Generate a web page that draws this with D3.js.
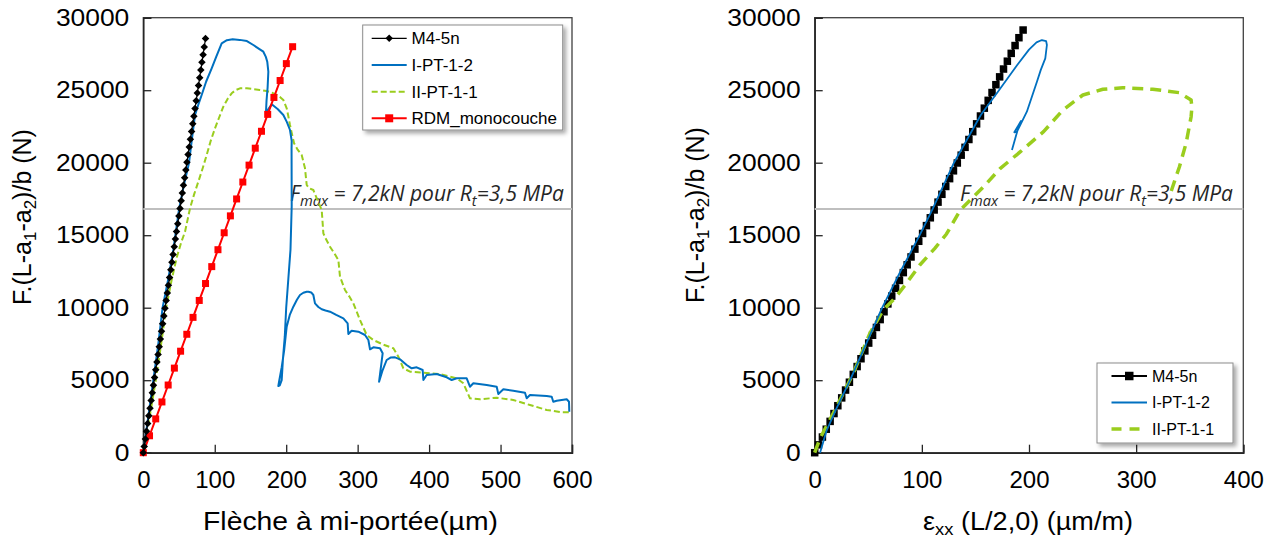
<!DOCTYPE html>
<html><head><meta charset="utf-8">
<script src="https://cdn.jsdelivr.net/npm/d3@7/dist/d3.min.js"></script>
<style>
html,body{margin:0;padding:0;background:#fff;}
svg{display:block;font-family:"Liberation Sans",Arial,sans-serif;}
</style></head>
<body>
<svg id="chart" width="1277" height="539"></svg>
<script>
// ---------------- DATA ----------------
const yTicks = [0, 5000, 10000, 15000, 20000, 25000, 30000];
const xTicksLeft = [0, 100, 200, 300, 400, 500, 600];
const xTicksRight = [0, 100, 200, 300, 400];
const fmaxLevel = 16800;

// Left chart: Flèche à mi-portée (µm) vs F.(L-a1-a2)/b (N)
const m45nLeftX = [0,1.3,2.9,4.5,6.1,7.7,9.4,11.0,12.6,14.2,15.8,17.4,19.1,20.7,22.3,23.9,25.5,27.1,28.8,30.4,32.0,33.6,35.2,36.8,38.5,40.1,41.7,43.3,44.9,46.5,48.2,49.8,51.4,53.0,54.6,56.2,57.9,59.5,61.1,62.7,64.3,65.9,67.6,69.2,70.8,72.4,74.0,75.6,77.3,78.9,80.5,82.1,83.7,85.3,87.1];
const m45nLeftY = [0,420,950,1480,2010,2540,3070,3600,4130,4660,5190,5720,6250,6780,7310,7840,8370,8900,9430,9960,10490,11020,11550,12080,12610,13140,13670,14200,14730,15260,15790,16320,16850,17380,17910,18440,18970,19500,20030,20560,21090,21620,22150,22680,23210,23740,24270,24800,25330,25860,26390,26920,27450,27980,28560];

const ipt12LeftX = [0,7,14,21,27,35,42,50,57,64,68,72.4,77,81.7,88,95.7,102,109.7,117,125,135,145,154,162,168,171.5,173.5,175,174,172.5,171.7,175,179.7,188,196,201,205.3,207.7,207.5,207.7,206,203,200,198,195.5,193.7,191,189,190,193.7,197,200.7,205,210,215,219.3,224,228.7,231,235,238,240.3,245,249.7,255,261.3,270,280,286,287,291.6,301,310.3,315,317.3,322,331.3,335,330,335,340.6,346,352.3,359.3,368.6,375.6,382.6,391,392,396.6,410.6,424.6,431.6,438.6,452.6,457.2,461.9,480.6,494.6,496.9,503.9,517.8,534.2,536.6,541.2,564.6,571.6,573.8,578.6,592.6,595.8,596.2];
const ipt12LeftY = [0,2500,5000,7500,10000,12000,14000,16800,18500,20000,21600,23290,24000,24670,25600,26510,27300,28235,28450,28510,28470,28390,28117,27850,27655,27300,26965,26276,25200,24300,23517,23700,24027,23700,23290,22800,22255,21500,20990,17000,14000,12000,10000,8000,6500,5000,4650,4600,4900,5900,7000,8690,9500,10070,10550,10876,11030,11100,11100,11050,10876,10300,10050,9890,9810,9725,9500,9270,8924,8186,8414,8345,8117,7772,7130,7269,7200,6855,4897,5700,6393,6560,6579,6441,6048,5820,5890,5703,5014,5359,5428,5200,5014,5131,5131,4552,4786,4669,4552,4048,4372,4276,4138,3752,3979,3910,3862,3517,3586,3683,3517,2828];

const iipt11LeftX = [0,9,17.5,25,32,40,47,53,58.4,65.4,71,77,83,88.7,94,100.3,106,112,118,123.7,129,135.3,145,154,163,172.7,180,186.7,192,196,200.7,203,205.3,208,211,216,221.7,226.3,228.7,232,238,244,249.7,252,256,261.3,268,273,275.3,282.3,288,294,303.3,312.7,322,336,350,357,364,373.3,392,415.3,438.6,447.9,457.2,471.2,494.6,517.8,541.2,564.6,585,599.6];
const iipt11LeftY = [0,2500,5000,7500,10000,12000,13500,14500,15240,16855,17800,18690,19600,20530,21450,22370,23100,23860,24400,24785,25000,25130,25130,25080,25020,24945,24830,24670,24500,24325,23750,23200,22600,22000,21340,20900,20530,19614,18462,18250,18117,17400,16738,15130,14700,14207,13700,13290,12138,11220,10800,10303,9152,8117,7772,7450,7200,6621,5821,5586,5517,5428,5131,4786,3752,3683,3793,3634,3290,2945,2800,2786];

const rdmX = [0,8.7,17.4,26.1,34.8,43.5,52.2,60.9,69.6,78.3,87.1,95.8,104.5,113.2,121.9,130.6,139.3,148.0,156.7,165.4,174.1,182.8,191.5,200.2,209.0];
const rdmY = [0,1167,2333,3500,4667,5833,7000,8167,9333,10500,11667,12833,14000,15167,16333,17500,18667,19833,21000,22167,23333,24500,25667,26833,28000];

// Right chart: εxx (L/2,0) (µm/m) vs F.(L-a1-a2)/b (N)
const m45nRightX = [0,3.5,7.2,10.8,14.4,18.0,21.6,25.2,28.8,32.4,36.0,39.6,43.2,46.8,50.4,54.0,57.6,61.1,64.7,68.3,71.9,75.5,79.1,82.7,86.3,89.9,93.5,97.1,100.7,104.3,107.9,111.5,115.1,118.7,122.3,125.9,129.5,133.1,136.7,140.3,143.9,147.5,151.1,154.7,158.3,161.9,165.5,169.1,172.6,176.2,179.8,183.4,187.0,190.6,194.5];
const m45nRightY = [0,540,1080,1620,2160,2700,3240,3780,4320,4860,5400,5940,6480,7020,7560,8100,8640,9180,9720,10260,10800,11340,11880,12420,12960,13500,14040,14580,15120,15660,16200,16740,17280,17820,18360,18900,19440,19980,20520,21060,21600,22140,22680,23220,23760,24300,24840,25380,25920,26460,27000,27540,28080,28620,29150];

const ipt12RightX = [5,11,20,33,48,63,80,98,110,130,155,172,189,200,207,212,216,216.7,215.2,211,207.4,198,188.8,186.3,192.5,189.4,184.1];
const ipt12RightY = [0,1500,3000,5000,7500,10000,12500,15000,16800,20000,23290,25000,26740,27800,28300,28460,28380,28117,27200,26400,25586,23517,22138,22096,22876,22255,20876];

const iipt11RightX = [0,5,17.3,36,51.5,63.9,74.8,85.7,98.1,112.1,123,136,157.7,173.3,192,213.6,231.6,250.3,268.9,287.5,315.5,340.4,351.3,352,351.3,346.6,340.4,334.1,331];
const iipt11RightY = [0,993,2717,5476,8234,9841,10648,11683,12945,14096,15083,16740,18345,19614,20760,22138,23634,24670,25062,25172,25062,24830,24325,23800,23172,21338,19724,18345,17655];

// ---------------- DRAW ----------------
const svg = d3.select('#chart');
const defs = svg.append('defs');
const f = defs.append('filter').attr('id','shadow').attr('x','-10%').attr('y','-10%').attr('width','130%').attr('height','140%');
f.append('feDropShadow').attr('dx',3).attr('dy',3).attr('stdDeviation',2).attr('flood-color','#000').attr('flood-opacity',0.35);

function zip(xs, ys){ return xs.map((x,i)=>[x, ys[i]]); }

// stretch a text element horizontally to a target width, keeping its anchor point
function fitWidth(sel, target){
  const bb = sel.node().getBBox();
  const sx = target / bb.width;
  const x0 = +sel.attr('x') || 0;
  sel.attr('transform', `translate(${x0},0) scale(${sx},1) translate(${-x0},0)`);
}

function panel(opts){
  const x = d3.scaleLinear().domain(opts.xDomain).range(opts.xRange);
  const y = d3.scaleLinear().domain([0,30000]).range([452.7,17.7]);
  const g = svg.append('g');
  g.append('rect').attr('x',opts.xRange[0]).attr('y',17.7)
    .attr('width',opts.xRange[1]-opts.xRange[0]).attr('height',452.7-17.7)
    .attr('fill','none').attr('stroke','#404040').attr('stroke-width',1.3);
  const xa = g.append('g').attr('transform',`translate(0,452.7)`)
    .call(d3.axisBottom(x).tickValues(opts.xTicks).tickSize(-8).tickPadding(18).tickFormat(d3.format('d')));
  const ya = g.append('g').attr('transform',`translate(${opts.xRange[0]},0)`)
    .call(d3.axisLeft(y).tickValues(yTicks).tickSize(-8).tickPadding(14).tickFormat(d3.format('d')));
  [xa,ya].forEach(a=>{
    a.select('.domain').attr('stroke','#262626').attr('stroke-width',1.5);
    a.selectAll('.tick line').attr('stroke','#262626').attr('stroke-width',1.3);
    a.selectAll('.tick text').attr('fill','#000')
      .attr('font-family','"Liberation Sans",Arial,sans-serif');
  });
  xa.selectAll('.tick text').attr('font-size',24);
  ya.selectAll('.tick text').attr('font-size',24).each(function(){
    const s = d3.select(this); const xx = +s.attr('x');
    s.attr('transform',`translate(${xx},0) scale(1.1,1) translate(${-xx},0)`);
  });
  g.append('line').attr('x1',x(opts.xDomain[0])).attr('x2',x(opts.xDomain[1]))
    .attr('y1',y(fmaxLevel)).attr('y2',y(fmaxLevel))
    .attr('stroke','#bfbfbf').attr('stroke-width',2);
  const t = g.append('text').attr('x',opts.annX).attr('y',201)
    .attr('font-family','"Open Sans", Lato, sans-serif').attr('font-style','italic')
    .attr('font-size',21.5).attr('fill','#262626');
  t.append('tspan').text('F');
  t.append('tspan').attr('dy',5).attr('font-size',15).text('max');
  t.append('tspan').attr('dy',-5).text(' = 7,2kN pour R');
  t.append('tspan').attr('dy',5).attr('font-size',15).text('t');
  t.append('tspan').attr('dy',-5).text('=3,5 MPa');
  fitWidth(t, opts.annW);
  return {g,x,y};
}

function drawSeries(p, xs, ys, st){
  const line = d3.line().x(d=>p.x(d[0])).y(d=>p.y(d[1]));
  const pts = zip(xs,ys);
  p.g.append('path').datum(pts).attr('d',line).attr('fill','none')
    .attr('stroke',st.color).attr('stroke-width',st.width)
    .attr('stroke-dasharray',st.dash||null).attr('stroke-linejoin','round');
  if(st.marker==='diamond'){
    p.g.selectAll(null).data(pts).enter().append('path')
      .attr('d',d3.symbol(d3.symbolDiamond2||d3.symbolDiamond, st.msize))
      .attr('transform',d=>`translate(${p.x(d[0])},${p.y(d[1])})`)
      .attr('fill',st.color);
  } else if(st.marker==='square'){
    const s = st.msize;
    p.g.selectAll(null).data(pts).enter().append('rect')
      .attr('x',d=>p.x(d[0])-s/2).attr('y',d=>p.y(d[1])-s/2)
      .attr('width',s).attr('height',s).attr('fill',st.mcolor||st.color);
  }
}

const L = panel({xDomain:[0,600], xRange:[143.3,572], xTicks:xTicksLeft, annX:290, annW:274});
const R = panel({xDomain:[0,400], xRange:[814.7,1243.3], xTicks:xTicksRight, annX:960, annW:273});

const stM45L = {color:'#000', width:1.2, marker:'diamond', msize:36};
const stIPT = {color:'#0070c0', width:2};
const stIIPTL = {color:'#9acd1e', width:2, dash:'6,3'};
const stRDM = {color:'#ff0000', width:2, marker:'square', msize:7};
drawSeries(L, iipt11LeftX, iipt11LeftY, stIIPTL);
drawSeries(L, ipt12LeftX, ipt12LeftY, stIPT);
drawSeries(L, rdmX, rdmY, stRDM);
drawSeries(L, m45nLeftX, m45nLeftY, stM45L);

const stM45R = {color:'#000', width:2, marker:'square', msize:7.5};
const stIPTR = {color:'#0070c0', width:1.8};
const stIIPTR = {color:'#9acd1e', width:3.5, dash:'11,7'};
drawSeries(R, m45nRightX, m45nRightY, stM45R);
drawSeries(R, iipt11RightX, iipt11RightY, stIIPTR);
drawSeries(R, ipt12RightX, ipt12RightY, stIPTR);

// axis titles
function yTitle(cx, cy, tail){
  const t = svg.append('text').attr('transform',`translate(${cx},${cy}) rotate(-90)`)
    .attr('text-anchor','middle').attr('font-size',25).attr('fill','#000');
  t.append('tspan').text('F.(L-a');
  t.append('tspan').attr('dy',5).attr('font-size',17).text('1');
  t.append('tspan').attr('dy',-5).text('-a');
  t.append('tspan').attr('dy',5).attr('font-size',17).text('2');
  t.append('tspan').attr('dy',-5).text(tail);
}
yTitle(31, 217, ')/b (N)');
yTitle(704, 215, ')/b  (N)');

const xtL = svg.append('text').attr('x',350.5).attr('y',530).attr('text-anchor','middle')
  .attr('font-size',25).attr('fill','#000').text('Flèche à mi-portée(µm)');
fitWidth(xtL, 295);
const rx = svg.append('text').attr('x',1028).attr('y',530).attr('text-anchor','middle')
  .attr('font-size',25).attr('fill','#000');
rx.append('tspan').text('ε');
rx.append('tspan').attr('dy',5).attr('font-size',17).text('xx');
rx.append('tspan').attr('dy',-5).text(' (L/2,0) (µm/m)');
fitWidth(rx, 210);

// legends
function legend(x0,y0,w,h,entries,textX,lineX0,lineX1,fs,rowY){
  const g = svg.append('g');
  g.append('rect').attr('x',x0).attr('y',y0).attr('width',w).attr('height',h)
    .attr('fill','#fff').attr('stroke','#8c8c8c').attr('stroke-width',1).attr('filter','url(#shadow)');
  entries.forEach((e,i)=>{
    const yy = rowY[i];
    g.append('line').attr('x1',lineX0).attr('x2',lineX1).attr('y1',yy).attr('y2',yy)
      .attr('stroke',e.st.color).attr('stroke-width',e.st.width).attr('stroke-dasharray',e.st.dash||null);
    const cx=(lineX0+lineX1)/2;
    if(e.st.marker==='diamond'){
      g.append('path').attr('d',d3.symbol(d3.symbolDiamond2||d3.symbolDiamond, e.st.msize)).attr('transform',`translate(${cx},${yy})`).attr('fill',e.st.color);
    } else if(e.st.marker==='square'){
      const s=e.st.msize+1;
      g.append('rect').attr('x',cx-s/2).attr('y',yy-s/2).attr('width',s).attr('height',s).attr('fill',e.st.color);
    }
    g.append('text').attr('x',textX).attr('y',yy).attr('dy','0.36em').attr('font-size',fs).attr('fill','#000').text(e.name);
  });
}
const legendNamesLeft = ['M4-5n','I-PT-1-2','II-PT-1-1','RDM_monocouche'];
const legendNamesRight = ['M4-5n','I-PT-1-2','II-PT-1-1'];
legend(362.7,25,200,105,
  [{name:legendNamesLeft[0],st:stM45L},{name:legendNamesLeft[1],st:stIPT},{name:legendNamesLeft[2],st:stIIPTL},{name:legendNamesLeft[3],st:stRDM}],
  411.5, 371.7, 406.7, 17, [38.3,65,91.7,118.3]);
legend(1097,363,136,80,
  [{name:legendNamesRight[0],st:stM45R},{name:legendNamesRight[1],st:stIPTR},{name:legendNamesRight[2],st:{color:'#9acd1e',width:3.5,dash:'10,8'}}],
  1152, 1111.5, 1147, 16, [376,402.5,429]);
</script>
</body></html>
